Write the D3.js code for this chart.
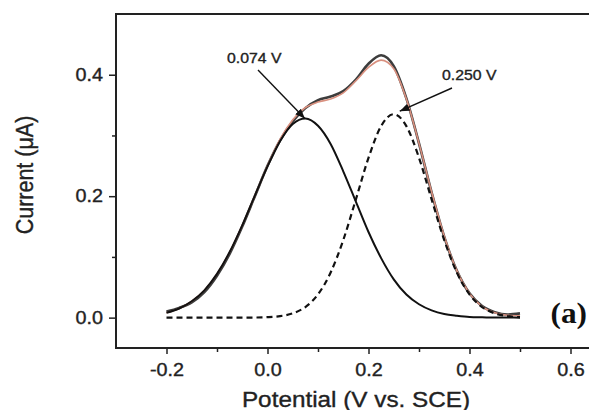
<!DOCTYPE html>
<html>
<head>
<meta charset="utf-8">
<script src="https://cdn.jsdelivr.net/npm/d3@7"></script>
<style>
  html, body { margin: 0; padding: 0; background: #fff; }
  svg { display: block; }
  text { font-family: "Liberation Sans", Arial, sans-serif; fill: #222; }
  text.heavy { stroke: #222; stroke-width: 0.35px; }
</style>
</head>
<body>
<svg id="chart" width="589" height="410"></svg>
<script>
// Potential sweep (V vs. SCE)
const potential = [-0.2, -0.175, -0.15, -0.125, -0.1, -0.075, -0.05, -0.025, 0,
  0.025, 0.05, 0.075, 0.1, 0.125, 0.15, 0.175, 0.2, 0.225, 0.25, 0.275,
  0.3, 0.325, 0.35, 0.375, 0.4, 0.425, 0.45, 0.475, 0.5];

// Measured differential pulse current (µA)
const measured = [0.010, 0.016, 0.025, 0.042, 0.069, 0.105, 0.150, 0.200, 0.250,
  0.292, 0.323, 0.345, 0.358, 0.364, 0.373, 0.392, 0.418, 0.432, 0.414, 0.361,
  0.287, 0.206, 0.133, 0.077, 0.040, 0.019, 0.009, 0.005, 0.007];

// Sum of the two fitted components
const fitted = [0.008, 0.015, 0.027, 0.045, 0.072, 0.108, 0.152, 0.201, 0.250,
  0.294, 0.326, 0.346, 0.355, 0.360, 0.370, 0.390, 0.412, 0.424, 0.410, 0.360,
  0.287, 0.207, 0.134, 0.077, 0.040, 0.018, 0.008, 0.004, 0.003];

// Component peak centred at 0.074 V
const peak1 = [0.008, 0.015, 0.027, 0.045, 0.072, 0.108, 0.152, 0.201, 0.249,
  0.291, 0.319, 0.328, 0.316, 0.286, 0.241, 0.191, 0.141, 0.098, 0.063, 0.038,
  0.022, 0.012, 0.006, 0.003, 0.001, 0.0005, 0.0002, 0.0001, 0];

// Component peak centred at 0.250 V
const peak2 = [0, 0, 0, 0, 0, 0, 0.0001, 0.0002, 0.0008,
  0.0025, 0.0071, 0.0175, 0.0383, 0.0742, 0.1277, 0.1947, 0.2632, 0.3154, 0.335, 0.3154,
  0.2632, 0.1947, 0.1277, 0.0742, 0.0383, 0.0175, 0.0071, 0.0025, 0.0008];

const peakCentres = [0.074, 0.250];
const peakLabels = ["0.074 V", "0.250 V"];

const xTicks = [-0.2, 0.0, 0.2, 0.4, 0.6];
const xMinorTicks = [-0.1, 0.1, 0.3, 0.5];
const yTicks = [0.0, 0.2, 0.4];
const yMinorTicks = [0.1, 0.3];

const xTitle = "Potential (V vs. SCE)";
const yTitle = "Current (\u03bcA)";
const panelLabel = "(a)";

const svg = d3.select("#chart");
const plotLeft = 116, plotTop = 14, plotBottom = 348;
const stretch = 1.13;

const x = d3.scaleLinear().domain([-0.3, 0.65]).range([plotLeft, plotLeft + 0.95 * 505]);
const y = d3.scaleLinear().domain([-0.05, 0.5]).range([plotBottom, plotTop]);

const fmt = d => d.toFixed(1);

// Axes: minor ticks first, then labelled major ticks
const gx = svg.append("g").attr("transform", `translate(0,${plotBottom})`)
  .call(d3.axisBottom(x).tickValues(xMinorTicks).tickSize(4).tickFormat(""));
gx.selectAll(".tick line").attr("stroke", "#222").attr("stroke-width", 1.5);
const gxMaj = svg.append("g").attr("transform", `translate(0,${plotBottom})`)
  .call(d3.axisBottom(x).tickValues(xTicks).tickSize(6).tickPadding(9.5).tickFormat(fmt));
gxMaj.selectAll(".tick line").attr("stroke", "#222").attr("stroke-width", 1.5);
gxMaj.selectAll(".tick text").attr("class", "heavy")
  .style("font-size", "17.5px").style("fill", "#222")
  .attr("transform", `scale(${stretch},1)`);

const gy = svg.append("g").attr("transform", `translate(${plotLeft},0)`)
  .call(d3.axisLeft(y).tickValues(yMinorTicks).tickSize(4).tickFormat(""));
gy.selectAll(".tick line").attr("stroke", "#222").attr("stroke-width", 1.5);
const gyMaj = svg.append("g").attr("transform", `translate(${plotLeft},0)`)
  .call(d3.axisLeft(y).tickValues(yTicks).tickSize(7).tickFormat(fmt));
gyMaj.selectAll(".tick line").attr("stroke", "#222").attr("stroke-width", 1.5);
gyMaj.selectAll(".tick text").attr("class", "heavy")
  .style("font-size", "17.5px").style("fill", "#222")
  .attr("x", -11.5).attr("transform", `scale(${stretch},1)`);
svg.selectAll(".domain").remove();

// Frame lines (left, top, bottom)
svg.append("path")
  .attr("d", `M${x.range()[1]},${plotTop}H${plotLeft}V${plotBottom}H${x.range()[1]}`)
  .attr("fill", "none").attr("stroke", "#222").attr("stroke-width", 2);

// Curves
const line = vals => d3.line()
  .x((d, i) => x(potential[i]))
  .y(d => y(d))
  .curve(d3.curveMonotoneX)(vals);

svg.append("path").attr("d", line(measured))
  .attr("fill", "none").attr("stroke", "#3d3d3d").attr("stroke-width", 2.6);
svg.append("path").attr("d", line(fitted))
  .attr("fill", "none").attr("stroke", "#d9907f").attr("stroke-width", 1.6);
svg.append("path").attr("d", line(peak2))
  .attr("fill", "none").attr("stroke", "#111").attr("stroke-width", 2.2)
  .attr("stroke-dasharray", "6,4");
svg.append("path").attr("d", line(peak1))
  .attr("fill", "none").attr("stroke", "#111").attr("stroke-width", 2);

// Arrow annotations pointing at the component maxima
svg.append("defs").append("marker")
  .attr("id", "head").attr("viewBox", "0 0 10 10")
  .attr("refX", 10).attr("refY", 5)
  .attr("markerWidth", 7).attr("markerHeight", 7)
  .attr("orient", "auto")
  .append("path").attr("d", "M0,1L10,5L0,9Z").attr("fill", "#111");

const tips = [
  [x(peakCentres[0]), y(d3.max(peak1))],
  [x(peakCentres[1]) + 6, y(d3.max(peak2)) - 3]
];
const tails = [[258, 70], [452, 88]];
const labelPos = [[227, 63], [442, 80]];

tips.forEach((t, i) => {
  svg.append("line")
    .attr("x1", tails[i][0]).attr("y1", tails[i][1])
    .attr("x2", t[0]).attr("y2", t[1])
    .attr("stroke", "#111").attr("stroke-width", 1.4)
    .attr("marker-end", "url(#head)");
  svg.append("text").attr("class", "heavy")
    .attr("transform", `translate(${labelPos[i][0]},${labelPos[i][1]}) scale(${stretch},1)`)
    .style("font-size", "14px")
    .text(peakLabels[i]);
});

// Axis titles
svg.append("text").attr("class", "heavy")
  .attr("transform", `translate(356,406.5) scale(${stretch},1)`)
  .attr("text-anchor", "middle").style("font-size", "21.5px")
  .text(xTitle);
svg.append("text").attr("class", "heavy")
  .attr("transform", `translate(33,175) scale(${stretch},1) rotate(-90)`)
  .attr("text-anchor", "middle").style("font-size", "21.5px")
  .text(yTitle);

// Panel label
svg.append("text")
  .attr("transform", `translate(587,323) scale(1.08,1)`)
  .attr("text-anchor", "end")
  .style("font-family", "'Liberation Serif', 'Times New Roman', serif")
  .style("font-weight", "bold").style("font-size", "29px").style("fill", "#111")
  .text(panelLabel);
</script>
</body>
</html>
